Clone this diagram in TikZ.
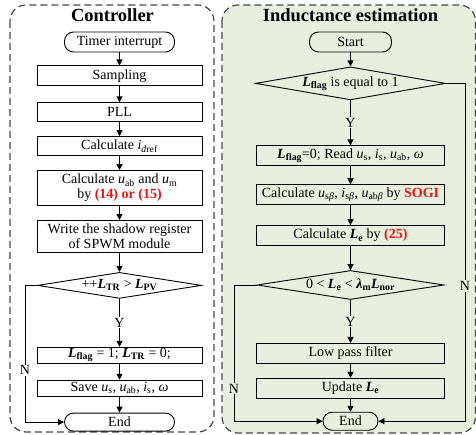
\documentclass[tikz,border=0pt]{standalone}
\usepackage{fontspec}
\setmainfont{Liberation Serif}
\usepackage{xcolor}
\usepackage{tikz}
\usetikzlibrary{arrows.meta,positioning,shapes.geometric}
\definecolor{panelgreen}{RGB}{233,239,222}
\definecolor{dashgray}{RGB}{70,70,70}
\definecolor{eqred}{RGB}{235,20,20}
\newcommand{\bL}[1]{\textbf{\textit{L}}\textsubscript{\textbf{#1}}}
\newcommand{\iv}[2]{\textit{#1}\textsubscript{#2}}
\newcommand{\eqref}[1]{\textcolor{eqred}{\textbf{#1}}}

\begin{document}
\begin{tikzpicture}[x=1pt,y=-1pt,
    panel/.style={draw=dashgray,line width=1.2pt,dash pattern=on 7pt off 4pt,rounded corners=16pt},
    title/.style={font=\fontsize{18.5}{20}\selectfont\bfseries,inner sep=0pt},
    box/.style={rectangle,draw,line width=0.9pt,align=center,inner sep=0pt,
      minimum height=20pt,font=\fontsize{14}{15}\selectfont},
    term/.style={box,rounded corners=9pt,minimum height=20pt},
    dec/.style={diamond,draw,line width=0.9pt,inner sep=0pt,font=\fontsize{14}{15}\selectfont},
    lab/.style={inner sep=1pt,font=\fontsize{14}{15}\selectfont},
    a/.style={-{Triangle[length=6pt,width=6pt]},line width=0.9pt}]
    \useasboundingbox (0,0) rectangle (476,435);
    \draw[panel] (10,5) rectangle (214,432);
    \draw[panel,fill=panelgreen] (222,5) rectangle (475.5,433);
    \node[title] (ctitle) at (112.5,15) {Controller};
    \node[title] (etitle) at (350.5,15) {Inductance estimation};

    \node[term,minimum width=110pt] (tstart) at (119.5,42) {Timer interrupt};
    \node[box,minimum width=165pt,below=13pt of tstart] (samp) {Sampling};
    \node[box,minimum width=165pt,minimum height=19pt,below=16pt of samp] (pll) {PLL};
    \node[box,minimum width=165pt,minimum height=19pt,below=14pt of pll] (idref) {Calculate \textit{i}\textsubscript{\textit{d}ref}};
    \node[box,minimum width=165pt,minimum height=35pt,below=14pt of idref] (calcu) {Calculate \iv{u}{ab} and \iv{u}{m}\\by \eqref{(14) or (15)}};
    \node[box,minimum width=165pt,minimum height=32pt,below=14pt of calcu] (shadow) {Write the shadow register\\of SPWM module};
    \node[dec,minimum width=164pt,minimum height=26pt,aspect=6.3,below=19pt of shadow] (cdec) {++\bL{TR} > \bL{PV}};
    \node[box,minimum width=165pt,minimum height=16pt,below=48pt of cdec] (setflag) {\bL{flag} = 1; \bL{TR} = 0;};
    \node[box,minimum width=165pt,minimum height=16pt,below=16pt of setflag] (save) {Save \iv{u}{s}, \iv{u}{ab}, \iv{i}{s}, \textit{ω}};
    \node[term,minimum width=110pt,minimum height=18pt,below=16pt of save] (cend) {End};
    \coordinate (lbend) at (25,0);

    \node[term,minimum width=82pt] (start) at (350.5,42) {Start};
    \node[dec,minimum width=190pt,minimum height=33pt,aspect=5.76,below=14pt of start] (edec) {\bL{flag} is equal to 1};
    \node[box,minimum width=188pt,below=45pt of edec] (readv) {\bL{flag}=0; Read \iv{u}{s}, \iv{i}{s}, \iv{u}{ab}, \textit{ω}};
    \node[box,minimum width=188pt,below=18pt of readv] (sogi) {Calculate \textit{u}\textsubscript{s\textit{β}}, \textit{i}\textsubscript{s\textit{β}}, \textit{u}\textsubscript{ab\textit{β}} by \eqref{SOGI}};
    \node[box,minimum width=188pt,below=20pt of sogi] (calcle) {Calculate \bL{e} by \eqref{(25)}};
    \node[dec,minimum width=187pt,minimum height=29pt,aspect=6.45,below=24pt of calcle] (ldec) {0 < \bL{e} < \textbf{\textit{λ}}\textsubscript{\textbf{m}}\bL{nor}};
    \node[box,minimum width=188pt,below=43pt of ldec] (lpf) {Low pass filter};
    \node[box,minimum width=188pt,below=14pt of lpf] (upd) {Update \bL{e}};
    \node[term,minimum width=55pt,minimum height=18pt,below=13pt of upd] (rend) {End};
    \coordinate (rbend) at (465,0);
    \coordinate (mbend) at (234,0);

    \draw[a] (tstart) -- (samp); \draw[a] (samp) -- (pll); \draw[a] (pll) -- (idref);
    \draw[a] (idref) -- (calcu); \draw[a] (calcu) -- (shadow); \draw[a] (shadow) -- (cdec);
    \draw[a] (cdec) -- node[lab,fill=white] {Y} (setflag);
    \draw[a] (setflag) -- (save); \draw[a] (save) -- (cend);
    \draw[a] (cdec.west) -- (cdec.west -| lbend) |- (cend.west) node[lab,fill=white,pos=0.31] {N};

    \draw[a] (start) -- (edec);
    \draw[a] (edec) -- node[lab,fill=panelgreen] {Y} (readv);
    \draw[a] (readv) -- (sogi); \draw[a] (sogi) -- (calcle); \draw[a] (calcle) -- (ldec);
    \draw[a] (ldec) -- node[lab,fill=panelgreen] {Y} (lpf);
    \draw[a] (lpf) -- (upd); \draw[a] (upd) -- (rend);
    \draw[a] (edec.east) -- (edec.east -| rbend) |- (rend.east) node[lab,fill=panelgreen,pos=0.30] {N};
    \draw[a] (ldec.west) -- (ldec.west -| mbend) |- (rend.west) node[lab,fill=panelgreen,pos=0.38] {N};
  \end{tikzpicture}
\end{document}
